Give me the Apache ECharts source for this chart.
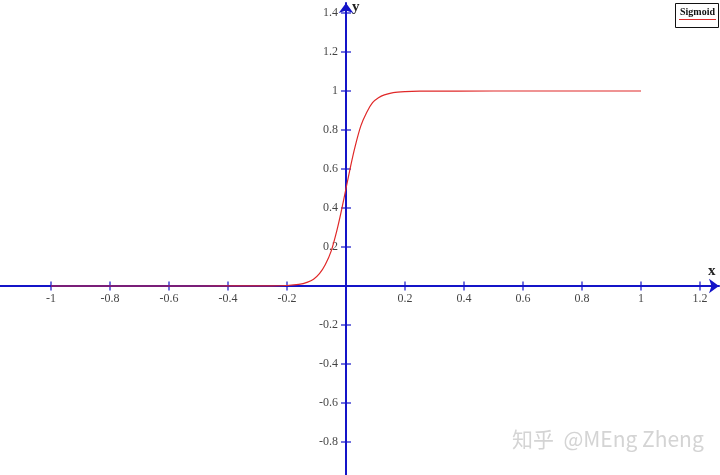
<!DOCTYPE html>
<html>
<head>
<meta charset="utf-8">
<script src="https://cdn.jsdelivr.net/npm/echarts@6/dist/echarts.min.js"></script>
<style>html,body{margin:0;padding:0;background:#fff;}#c{width:720px;height:475px;}</style>
</head>
<body>
<div id="c"></div>
<script>
var xTicks = [-1, -0.8, -0.6, -0.4, -0.2, 0.2, 0.4, 0.6, 0.8, 1, 1.2];
var yTicks = [-0.8, -0.6, -0.4, -0.2, 0.2, 0.4, 0.6, 0.8, 1, 1.2, 1.4];
var curveX = [-1, -0.5, -0.25, -0.2, -0.16, -0.13, -0.11, -0.09, -0.07, -0.05, -0.03, -0.015, 0, 0.015, 0.03, 0.05, 0.07, 0.09, 0.11, 0.13, 0.16, 0.2, 0.25, 0.5, 1];
var curveY = [0, 0, 0.001, 0.0025, 0.008, 0.02, 0.035, 0.063, 0.11, 0.18, 0.29, 0.39, 0.5, 0.61, 0.71, 0.82, 0.89, 0.94, 0.965, 0.98, 0.992, 0.997, 0.999, 1, 1];
var seriesName = 'Sigmoid';

var AX = '#1414c8';
var serif = '"Liberation Serif", "Times New Roman", serif';
var data = curveX.map(function (x, i) { return [x, curveY[i]]; });
var xTickMarks = xTicks.map(function (t) { return [t, 0]; });
var yTickMarks = yTicks.map(function (t) { return [0, t]; });
function fmt(v) { return String(Math.round(v * 10) / 10); }

var xMin = -346 / 295, xMax = 373 / 295;
var yMin = -189 / 195, yMax = 283 / 195;

var chart = echarts.init(document.getElementById('c'), null, {renderer: 'canvas'});
chart.setOption({
  animation: false,
  backgroundColor: '#fff',
  grid: {left: 0, right: 1, top: 3, bottom: 0, containLabel: false, outerBoundsMode: 'none'},
  xAxis: {
    type: 'value', min: xMin, max: xMax,
    splitLine: {show: false},
    axisLine: {show: true, onZero: true, symbol: ['none', 'arrow'], symbolSize: [11, 10], lineStyle: {color: AX, width: 2}},
    axisTick: {show: false},
    axisLabel: {show: false}
  },
  yAxis: {
    type: 'value', min: yMin, max: yMax,
    splitLine: {show: false},
    axisLine: {show: true, onZero: true, symbol: ['none', 'arrow'], symbolSize: [11, 10], lineStyle: {color: AX, width: 2}},
    axisTick: {show: false},
    axisLabel: {show: false}
  },
  series: [{
    name: seriesName, type: 'line', data: data,
    showSymbol: false, smooth: 0.3,
    lineStyle: {color: '#e02828', width: 1.2}, z: 5
  }, {
    type: 'scatter', data: xTickMarks, symbol: 'rect', symbolSize: [1.5, 9],
    itemStyle: {color: AX}, silent: true, z: 3,
    label: {show: true, position: 'bottom', distance: 2, formatter: function (p) { return fmt(p.value[0]); }, color: '#111', fontFamily: serif, fontSize: 12}
  }, {
    type: 'scatter', data: yTickMarks, symbol: 'rect', symbolSize: [10, 1.5],
    itemStyle: {color: AX}, silent: true, z: 3,
    label: {show: true, position: 'left', distance: 3, formatter: function (p) { return fmt(p.value[1]); }, color: '#111', fontFamily: serif, fontSize: 12}
  }],
  graphic: [
    {type: 'text', left: 352, top: 0, style: {text: 'y', font: 'bold 15px ' + serif, fill: '#222'}},
    {type: 'text', left: 708, top: 264, style: {text: 'x', font: 'bold 15px ' + serif, fill: '#222'}},
    {type: 'rect', shape: {x: 675.5, y: 3.5, width: 43, height: 24}, style: {fill: '#fff', stroke: '#111', lineWidth: 1}},
    {type: 'text', x: 680, y: 7, style: {text: seriesName, font: 'bold 10px ' + serif, fill: '#111'}},
    {type: 'line', shape: {x1: 679, y1: 19.5, x2: 716, y2: 19.5}, style: {stroke: '#e02828', lineWidth: 1}},
    {type: 'text', x: 512, y: 429, style: {text: '知乎  @MEng Zheng', font: '21px "Noto Sans CJK SC", "Noto Sans", sans-serif', fill: '#d4d4d4', textShadowColor: 'rgba(0,0,0,0.12)', textShadowOffsetX: 0, textShadowOffsetY: 1, textShadowBlur: 0}}
  ]
});
</script>
</body>
</html>
